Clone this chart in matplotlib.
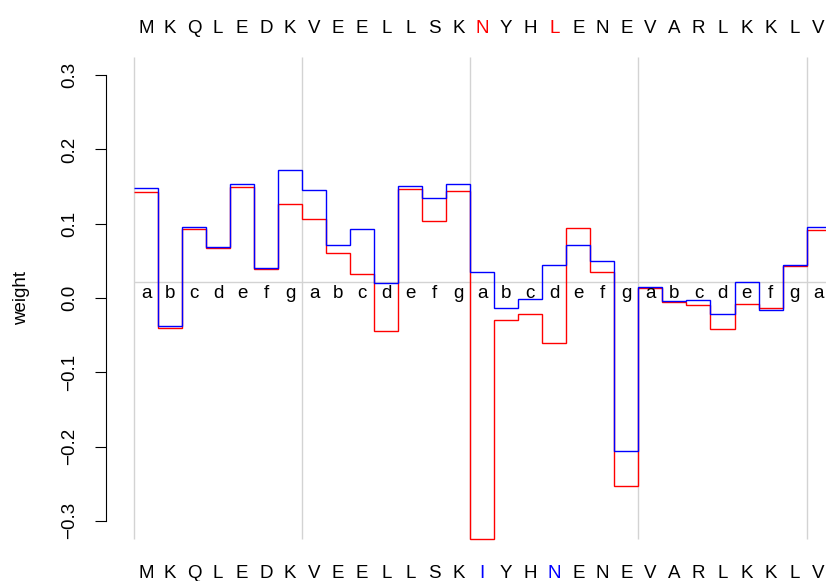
import numpy as np
import matplotlib.pyplot as plt

plt.rcParams['font.family'] = ['Liberation Sans', 'DejaVu Sans']

seq_top = list("MKQLEDKVEELLSKNYHLENEVARLKKLV")
seq_bottom = list("MKQLEDKVEELLSKIYHNENEVARLKKLV")
heptad = list("abcdefg" * 4 + "a")
top_colors = {14: 'red', 17: 'red'}
bottom_colors = {14: 'blue', 17: 'blue'}

red_w = [0.143, -0.040, 0.093, 0.067, 0.149, 0.039, 0.127, 0.106, 0.061, 0.032,
         -0.045, 0.147, 0.103, 0.144, -0.325, -0.030, -0.022, -0.060, 0.094, 0.035,
         -0.253, 0.014, -0.006, -0.009, -0.042, -0.008, -0.014, 0.043, 0.092]
blue_w = [0.148, -0.038, 0.096, 0.069, 0.154, 0.040, 0.172, 0.146, 0.072, 0.093,
          0.020, 0.151, 0.135, 0.154, 0.035, -0.013, -0.001, 0.044, 0.072, 0.050,
          -0.206, 0.015, -0.004, -0.003, -0.021, 0.022, -0.016, 0.044, 0.095]
ref_level = 0.022

W, H = 826, 581
fig = plt.figure(figsize=(W / 100, H / 100), dpi=100)
left_px = 106
ax = fig.add_axes([left_px / W, 0, 1 - left_px / W, 1])
ax.patch.set_visible(False)

# pixel mapping
x0_px, px_unit = 134, 24.02
y0_px, py_unit = 298, 743
ax.set_xlim((left_px - x0_px) / px_unit, (W - x0_px) / px_unit)
ax.set_ylim(-(H - y0_px) / py_unit, y0_px / py_unit)

n = len(red_w)
edges = np.arange(n + 1)
ymax = max(np.abs(red_w).max(), np.abs(blue_w).max())

grey = '#d3d3d3'
ax.vlines(np.arange(0, n, 7), -ymax, ymax, color=grey, lw=1.0, zorder=1)
ax.hlines(ref_level, 0, n, color=grey, lw=1.0, zorder=1)

ax.stairs(red_w, edges, baseline=None, color='red', lw=1.0, zorder=2)
ax.stairs(blue_w, edges, baseline=None, color='blue', lw=1.0, zorder=3)

fs = 13.5
for i in range(n):
    xc = i + 0.5
    ax.text(xc, 0.0, heptad[i], ha='center', va='baseline', fontsize=fs)
    ax.text(xc, (y0_px - 33) / py_unit, seq_top[i], ha='center', va='baseline',
            fontsize=fs, color=top_colors.get(i, 'black'), clip_on=False)
    ax.text(xc, -(578 - y0_px) / py_unit, seq_bottom[i], ha='center', va='baseline',
            fontsize=fs, color=bottom_colors.get(i, 'black'), clip_on=False)

for s in ['top', 'right', 'bottom']:
    ax.spines[s].set_visible(False)
ax.spines['left'].set_bounds(-0.3, 0.3)
ax.spines['left'].set_linewidth(0.8)
yt = np.round(np.arange(-0.3, 0.31, 0.1), 1)
ax.set_yticks(yt)
ax.set_yticklabels([f'{v:.1f}'.replace('-', '\u2212') for v in yt], rotation=90,
                   va='center', fontsize=fs)
ax.tick_params(axis='y', length=8, width=0.8, pad=12)
ax.set_xticks([])

fig.text(22 / W, 1 - y0_px / H, 'weight', rotation=90, ha='center', va='center',
         fontsize=fs)

fig.savefig('out.png', dpi=100)
